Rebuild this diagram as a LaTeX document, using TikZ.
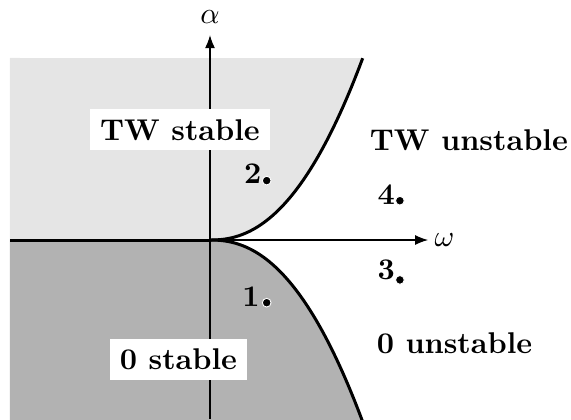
\documentclass[tikz,border=0pt]{standalone}
\usepackage{tikz}
\usetikzlibrary{arrows.meta}
\colorlet{twfill}{black!10}
\colorlet{zerofill}{black!30}

\begin{document}
\begin{tikzpicture}[x=1pt, y=1pt,
    axis/.style={line width=0.4pt, -{Latex[length=4.3pt, width=3.3pt]}},
    border/.style={line width=1pt},
    region/.style={fill=white, font=\bfseries},
    tag/.style={font=\bfseries, inner sep=0pt, anchor=base east},
    pt/.style={circle, fill=black, draw=white, line width=0.3pt, inner sep=0pt, minimum size=2.9pt}]
  \useasboundingbox (-70,-59.67) rectangle (120.33,80);
  % stability regions
  \fill[twfill] (-66.67,0) -- plot[domain=0.01:50.9, samples=80] (\x,{0.00876*pow(\x,2.25)}) -- (-66.67,60.67) -- cycle;
  \fill[zerofill] (-66.67,0) -- plot[domain=0.01:52, samples=80] (\x,{-0.00876*pow(\x,2.25)}) -- (-66.67,-64) -- cycle;
  % axes
  \coordinate (ystart) at (0,-59.67);
  \coordinate (yend) at (0,68.3);
  \coordinate (xstart) at (0,0);
  \coordinate (xend) at (72.7,0);
  \coordinate (xleft) at (-66.67,0);
  \draw[axis] (ystart) -- (yend);
  \draw[axis] (xstart) -- (xend);
  \node[above, inner sep=3.6pt] (alab) at (yend) {$\alpha$};
  \node[right, inner sep=2pt] (wlab) at (xend) {$\omega$};
  % boundaries
  \draw[border] (xleft) -- (xstart);
  \draw[border] plot[domain=0.01:50.9, samples=80] (\x,{0.00876*pow(\x,2.25)});
  \draw[border] plot[domain=0.01:51, samples=80] (\x,{-0.00876*pow(\x,2.25)});
  % region labels
  \node[region] (twstable) at (-10,36.7) {TW stable};
  \node[region] (zstable) at (-10.5,-39.8) {0 stable};
  \node[font=\bfseries] (twunstable) at (86.3,33.3) {TW unstable};
  \node[font=\bfseries] (zunstable) at (81.5,-34.3) {0 unstable};
  % sample points
  \node[pt] (p1) at (18.9,-20.9) {};
  \node[pt] (p2) at (18.9,19.8) {};
  \node[pt] (p3) at (63.3,-13.3) {};
  \node[pt] (p4) at (63.3,13.1) {};
  \node[tag] (l1) at ([shift={(-2.2pt,-1.4pt)}]p1) {1};
  \node[tag] (l2) at ([shift={(-1.6pt,-0.8pt)}]p2) {2};
  \node[tag] (l3) at ([shift={(-1.5pt,0pt)}]p3) {3};
  \node[tag] (l4) at ([shift={(-1.5pt,-1.4pt)}]p4) {4};
\end{tikzpicture}
\end{document}
